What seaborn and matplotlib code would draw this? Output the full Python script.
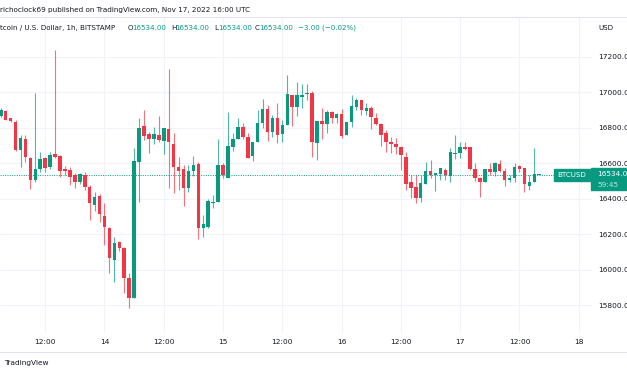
import numpy as np
import pandas as pd
import matplotlib
matplotlib.use("Agg")
import matplotlib.pyplot as plt
import matplotlib.dates as mdates
from matplotlib.patches import Rectangle
import seaborn as sns

# BTC/USD 1h candles, Bitstamp, Nov 13 03:00 -> Nov 17 16:00 UTC
opens = [16866, 16896, 16853, 16831, 16675, 16735, 16628, 16506, 16568, 16628,
         16581, 16654, 16641, 16568, 16562, 16534, 16496, 16534, 16468, 16365,
         16418, 16305, 16234, 16055, 16155, 16125, 15956, 15839, 16609, 16812,
         16763, 16737, 16759, 16725, 16791, 16707, 16581, 16566, 16459, 16558,
         16594, 16237, 16243, 16378, 16380, 16590, 16519, 16693, 16737, 16806,
         16746, 16643, 16718, 16829, 16904, 16778, 16857, 16763, 16815, 16984,
         16919, 16971, 16988, 16994, 16712, 16838, 16819, 16891, 16853, 16876,
         16759, 16834, 16919, 16956, 16896, 16909, 16857, 16821, 16769, 16722,
         16710, 16693, 16633, 16493, 16465, 16403, 16483, 16556, 16534, 16538,
         16562, 16530, 16650, 16656, 16690, 16690, 16568, 16519, 16496, 16566,
         16553, 16596, 16558, 16506, 16515, 16585, 16571, 16472, 16496, 16534]
highs = [16910, 16900, 16857, 16844, 16759, 16759, 16637, 16994, 16665, 16637,
         16662, 17238, 16647, 16585, 16581, 16543, 16545, 16549, 16478, 16440,
         16425, 16374, 16243, 16187, 16162, 16130, 15980, 16684, 16853, 16900,
         16774, 16802, 16868, 16800, 17131, 16769, 16637, 16590, 16590, 16641,
         16609, 16309, 16399, 16421, 16735, 16600, 16891, 16769, 16857, 16829,
         16769, 16722, 16900, 16960, 16928, 16872, 16937, 16844, 17097, 16984,
         17056, 17044, 17044, 17007, 16838, 16913, 16900, 16894, 16881, 16906,
         16834, 16984, 16966, 16956, 16937, 16922, 16885, 16829, 16787, 16750,
         16740, 16697, 16665, 16534, 16534, 16534, 16609, 16618, 16547, 16575,
         16575, 16684, 16759, 16722, 16722, 16690, 16600, 16525, 16566, 16600,
         16609, 16618, 16571, 16534, 16600, 16590, 16575, 16534, 16688, 16534]
lows = [16858, 16842, 16834, 16669, 16581, 16605, 16455, 16496, 16549, 16553,
        16568, 16632, 16525, 16534, 16478, 16459, 16481, 16450, 16281, 16331,
        16267, 16140, 15984, 15933, 16106, 15868, 15783, 15839, 16384, 16731,
        16656, 16707, 16718, 16650, 16463, 16431, 16450, 16361, 16436, 16530,
        16172, 16187, 16237, 16350, 16380, 16519, 16515, 16669, 16737, 16737,
        16628, 16613, 16718, 16800, 16725, 16750, 16712, 16718, 16815, 16812,
        16868, 16909, 16956, 16637, 16618, 16737, 16769, 16825, 16825, 16744,
        16759, 16806, 16900, 16872, 16872, 16793, 16815, 16699, 16662, 16656,
        16650, 16562, 16450, 16403, 16374, 16380, 16483, 16519, 16446, 16506,
        16506, 16496, 16624, 16628, 16675, 16562, 16500, 16412, 16496, 16534,
        16528, 16553, 16474, 16496, 16496, 16553, 16436, 16450, 16496, 16534]
closes = [16900, 16844, 16840, 16675, 16740, 16637, 16506, 16568, 16624, 16571,
          16647, 16637, 16558, 16558, 16525, 16496, 16538, 16468, 16374, 16412,
          16312, 16243, 16068, 16149, 16125, 15956, 15839, 16613, 16800, 16755,
          16737, 16765, 16731, 16797, 16722, 16581, 16558, 16463, 16556, 16590,
          16234, 16258, 16388, 16384, 16590, 16534, 16697, 16737, 16806, 16750,
          16632, 16722, 16829, 16904, 16774, 16857, 16759, 16815, 16988, 16919,
          16984, 16984, 16994, 16718, 16838, 16821, 16887, 16857, 16876, 16755,
          16834, 16922, 16956, 16900, 16909, 16862, 16821, 16759, 16718, 16707,
          16690, 16647, 16483, 16463, 16403, 16487, 16556, 16534, 16543, 16572,
          16534, 16665, 16656, 16690, 16680, 16568, 16519, 16496, 16566, 16549,
          16600, 16558, 16506, 16519, 16577, 16566, 16481, 16496, 16537, 16534]

price_ticks = [15800, 16000, 16200, 16400, 16600, 16800, 17000, 17200]
time_ticks = ["2022-11-13 12:00", "2022-11-14 00:00", "2022-11-14 12:00", "2022-11-15 00:00",
              "2022-11-15 12:00", "2022-11-16 00:00", "2022-11-16 12:00", "2022-11-17 00:00",
              "2022-11-17 12:00", "2022-11-18 00:00"]
time_labels = ["12:00", "14", "12:00", "15", "12:00", "16", "12:00", "17", "12:00", "18"]
last_price = 16534

UP = "#089981"
DOWN = "#f23645"
TXT = "#131722"
GRID = "#f0f3fa"

df = pd.DataFrame({"time": pd.date_range("2022-11-13 03:00", periods=len(opens), freq="h"),
                   "open": opens, "high": highs, "low": lows, "close": closes})
df["x"] = mdates.date2num(df["time"])
df["up"] = df["close"] >= df["open"]
df["color"] = np.where(df["up"], UP, DOWN)

sns.set_theme(style="white")
plt.rcParams["font.family"] = ["DejaVu Sans"]

W, H = 627, 376
fig = plt.figure(figsize=(W / 100, H / 100), dpi=100)
ax = fig.add_axes([0, 1 - 333 / H, 592 / W, (333 - 17) / H])

def fx(x):
    return x / W

def fy(y):
    return 1 - y / H

# candles
hour = 1 / 24
ax.vlines(df["x"], df["low"], df["high"], colors=df["color"], lw=0.8, alpha=0.7, zorder=3)
body_h = np.maximum((df["close"] - df["open"]).abs(), 6)
body_lo = np.minimum(df["open"], df["close"])
ax.bar(df["x"], body_h, bottom=body_lo, width=0.72 * hour, color=df["color"], lw=0, zorder=4)

# last price dotted line
ax.axhline(last_price, xmax=554 / 592, color=UP, lw=0.7, ls=(0, (1, 1.4)), zorder=2)

t0 = mdates.date2num(pd.Timestamp("2022-11-14"))
ax.set_xlim(t0 - 21.15 * hour, t0 + 98.68 * hour)
ax.set_ylim(15644, 17424)

ax.set_xticks(mdates.date2num(pd.to_datetime(time_ticks)))
ax.set_xticklabels(time_labels)
ax.set_yticks(price_ticks)
ax.set_yticklabels([f"{p:.2f}" for p in price_ticks])
ax.yaxis.tick_right()
ax.tick_params(axis="x", length=0, pad=4.6, labelsize=5.3, colors=TXT)
ax.tick_params(axis="y", length=0, pad=4.3, labelsize=5.3, colors=TXT)
ax.grid(True, color=GRID, lw=0.8)
ax.set_axisbelow(True)
for s in ax.spines.values():
    s.set_visible(False)

# frame lines of the widget
fig.add_artist(plt.Line2D([0, 1], [fy(17), fy(17)], color="#e0e3eb", lw=0.8))
fig.add_artist(plt.Line2D([0, 1], [fy(352), fy(352)], color="#e0e3eb", lw=0.8))

# header
fs = 5.1
fig.text(fx(0), fy(10), "richoclock69 published on TradingView.com, Nov 17, 2022 16:00 UTC",
         fontsize=5.2, color=TXT, va="center")
fig.text(fx(0), fy(28), "tcoin / U.S. Dollar, 1h, BITSTAMP", fontsize=fs, color=TXT, va="center")
for lab, x in [("O", 128), ("H", 171), ("L", 214), ("C", 255)]:
    fig.text(fx(x), fy(28), lab, fontsize=fs, color=TXT, va="center")
    fig.text(fx(x + 4.5), fy(28), f"{last_price:.2f}", fontsize=fs, color=UP, va="center")
fig.text(fx(298), fy(28), "\u22123.00 (\u22120.02%)", fontsize=fs, color=UP, va="center")
fig.text(fx(598), fy(28), "USD", fontsize=fs, color=TXT, va="center")

# price markers
fig.add_artist(Rectangle((fx(554), fy(181)), fx(36), 12 / H, color=UP, transform=fig.transFigure))
fig.text(fx(572), fy(175), "BTCUSD", fontsize=fs, color="white", va="center", ha="center")
fig.add_artist(Rectangle((fx(591), fy(190)), fx(40), 22 / H, color=UP, transform=fig.transFigure))
fig.text(fx(597), fy(174), f"{last_price:.2f}", fontsize=5.3, color="white", va="center")
fig.text(fx(597), fy(185), "59:45", fontsize=5.3, color="#bfe8df", va="center")

# footer
fig.text(fx(4), fy(363), "TradingView", fontsize=5.3, color=TXT, va="center")

fig.savefig("out.png", dpi=100, facecolor="white")
